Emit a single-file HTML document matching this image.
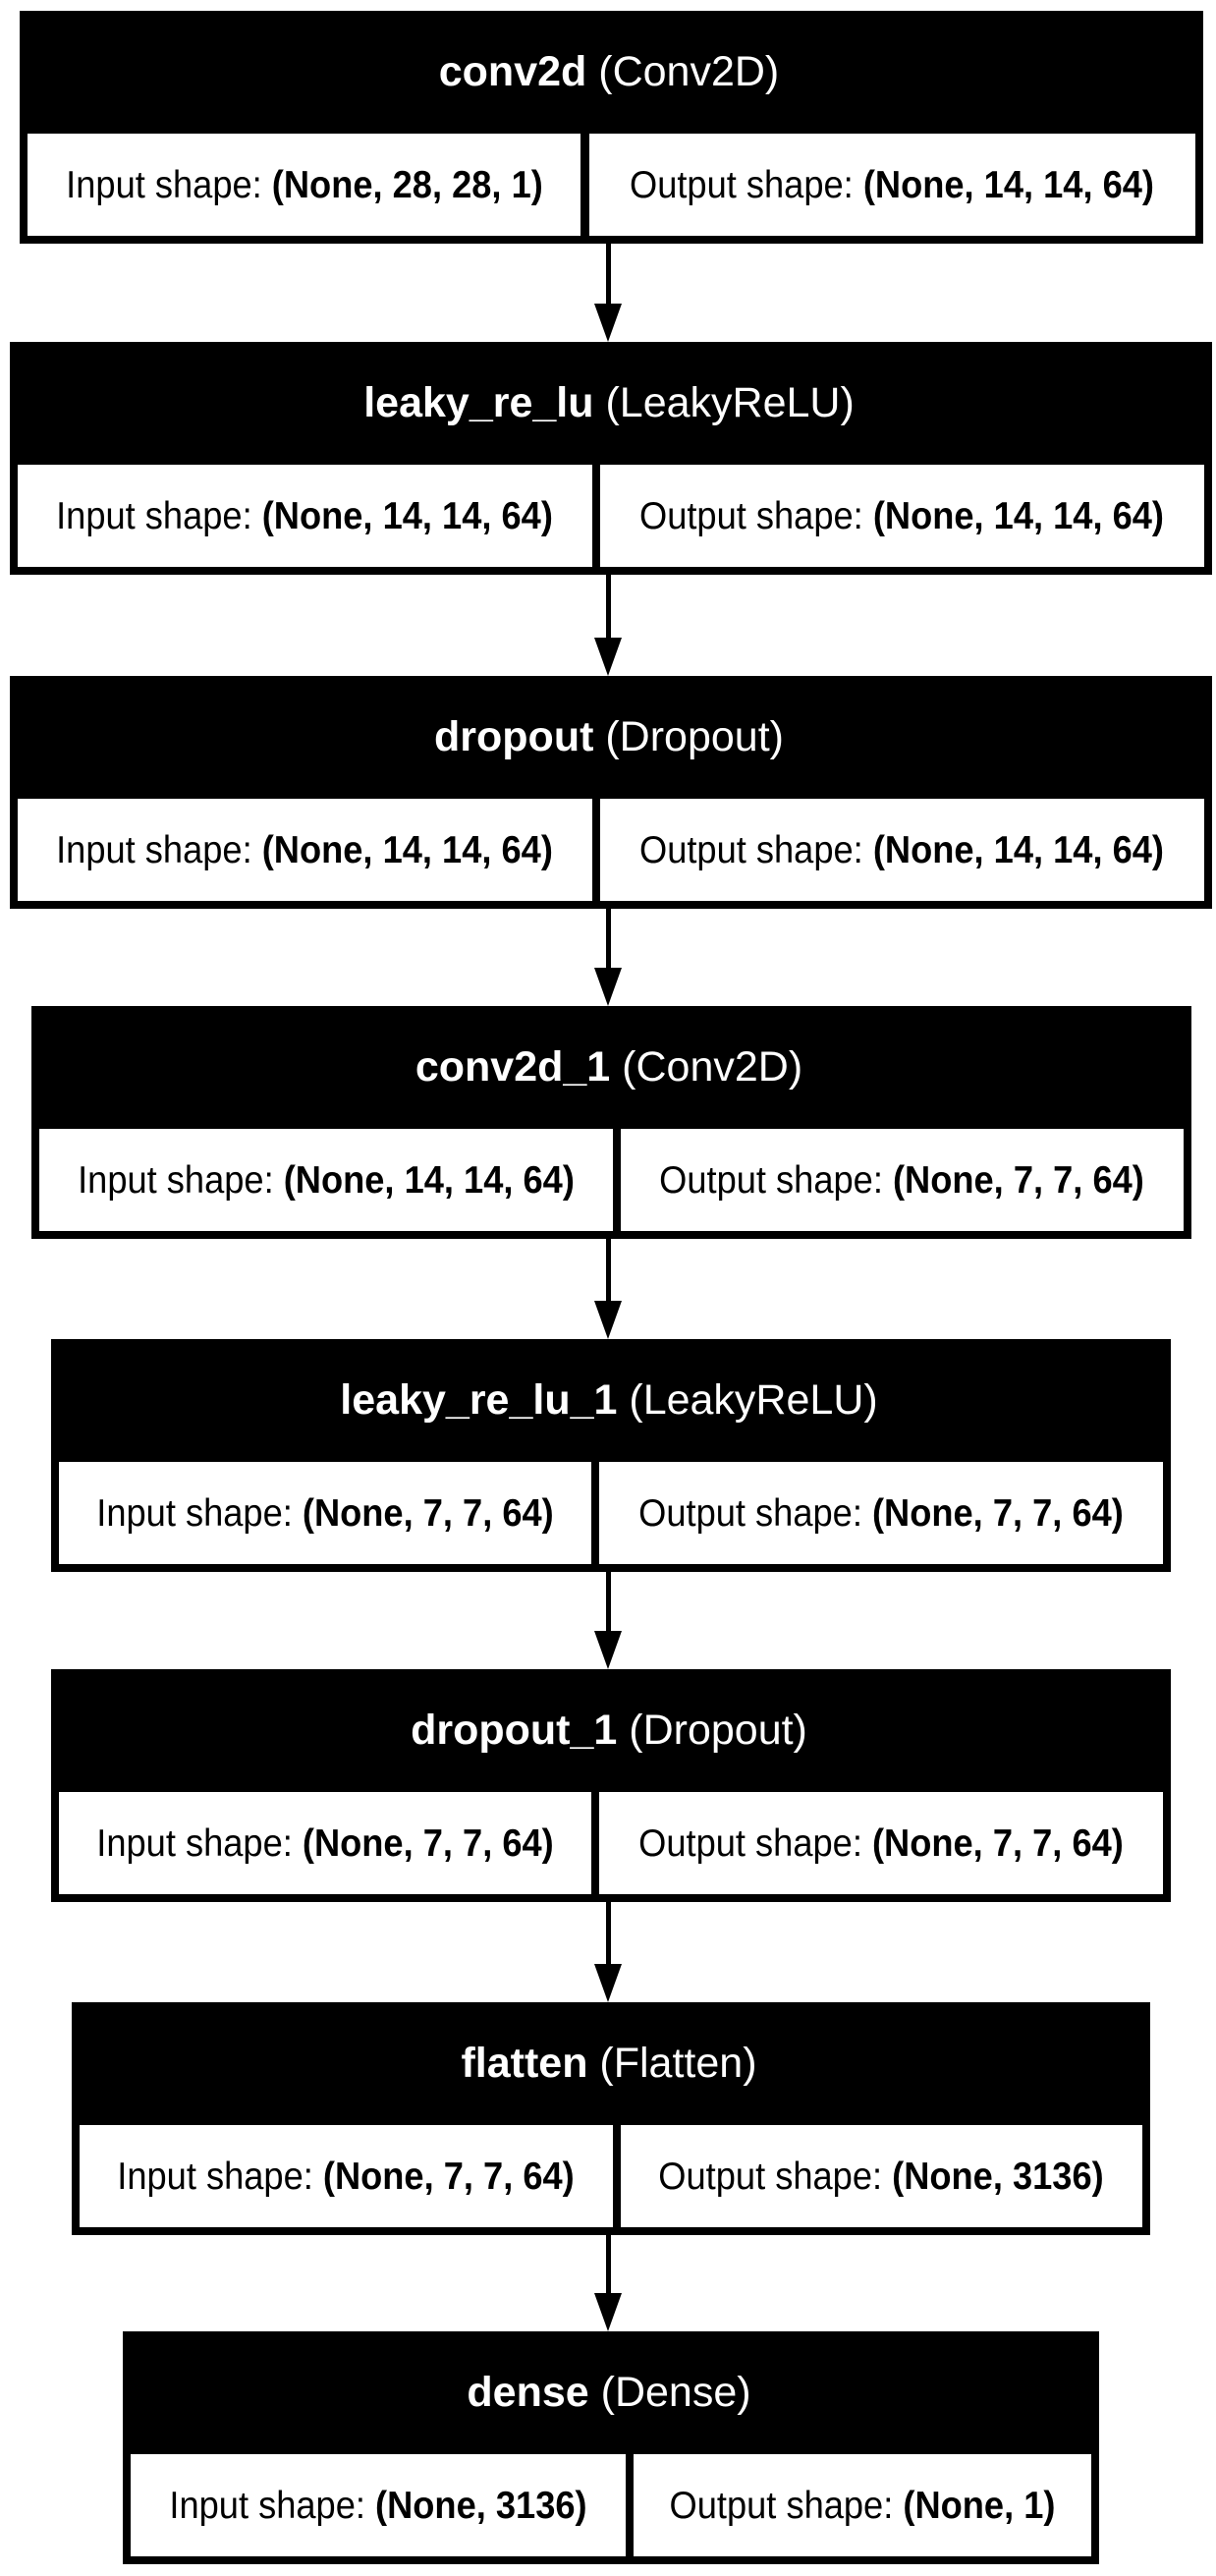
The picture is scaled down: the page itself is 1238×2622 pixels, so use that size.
<!DOCTYPE html>
<html><head><meta charset="utf-8"><style>
html,body{margin:0;padding:0;background:#fff;}
svg{display:block;}
text{font-family:"Liberation Sans",Arial,sans-serif;}
.t{font-size:43px;fill:#fff;}
.c{font-size:39px;fill:#000;}
</style></head><body>
<svg width="1238" height="2622" viewBox="0 0 1238 2622" xmlns="http://www.w3.org/2000/svg">
<rect width="1238" height="2622" fill="#fff"/>
<g>
<rect x="20" y="11" width="1205" height="237" fill="#000"/>
<rect x="28" y="136" width="563" height="104" fill="#fff"/>
<rect x="600" y="136" width="617" height="104" fill="#fff"/>
<text class="t" x="620" y="87" text-anchor="middle"><tspan font-weight="bold">conv2d</tspan> (Conv2D)</text>
<text class="c" transform="translate(310,201) scale(0.93,1)" text-anchor="middle">Input shape: <tspan font-weight="bold">(None, 28, 28, 1)</tspan></text>
<text class="c" transform="translate(908,201) scale(0.93,1)" text-anchor="middle">Output shape: <tspan font-weight="bold">(None, 14, 14, 64)</tspan></text>
</g>
<g>
<rect x="10" y="348" width="1224" height="237" fill="#000"/>
<rect x="18" y="473" width="585" height="104" fill="#fff"/>
<rect x="611" y="473" width="615" height="104" fill="#fff"/>
<text class="t" x="620" y="424" text-anchor="middle"><tspan font-weight="bold">leaky_re_lu</tspan> (LeakyReLU)</text>
<text class="c" transform="translate(310,538) scale(0.93,1)" text-anchor="middle">Input shape: <tspan font-weight="bold">(None, 14, 14, 64)</tspan></text>
<text class="c" transform="translate(918,538) scale(0.93,1)" text-anchor="middle">Output shape: <tspan font-weight="bold">(None, 14, 14, 64)</tspan></text>
</g>
<g>
<rect x="10" y="688" width="1224" height="237" fill="#000"/>
<rect x="18" y="813" width="585" height="104" fill="#fff"/>
<rect x="611" y="813" width="615" height="104" fill="#fff"/>
<text class="t" x="620" y="764" text-anchor="middle"><tspan font-weight="bold">dropout</tspan> (Dropout)</text>
<text class="c" transform="translate(310,878) scale(0.93,1)" text-anchor="middle">Input shape: <tspan font-weight="bold">(None, 14, 14, 64)</tspan></text>
<text class="c" transform="translate(918,878) scale(0.93,1)" text-anchor="middle">Output shape: <tspan font-weight="bold">(None, 14, 14, 64)</tspan></text>
</g>
<g>
<rect x="32" y="1024" width="1181" height="237" fill="#000"/>
<rect x="40" y="1149" width="584" height="104" fill="#fff"/>
<rect x="632" y="1149" width="573" height="104" fill="#fff"/>
<text class="t" x="620" y="1100" text-anchor="middle"><tspan font-weight="bold">conv2d_1</tspan> (Conv2D)</text>
<text class="c" transform="translate(332,1214) scale(0.93,1)" text-anchor="middle">Input shape: <tspan font-weight="bold">(None, 14, 14, 64)</tspan></text>
<text class="c" transform="translate(918,1214) scale(0.93,1)" text-anchor="middle">Output shape: <tspan font-weight="bold">(None, 7, 7, 64)</tspan></text>
</g>
<g>
<rect x="52" y="1363" width="1140" height="237" fill="#000"/>
<rect x="60" y="1488" width="542" height="104" fill="#fff"/>
<rect x="610" y="1488" width="574" height="104" fill="#fff"/>
<text class="t" x="620" y="1439" text-anchor="middle"><tspan font-weight="bold">leaky_re_lu_1</tspan> (LeakyReLU)</text>
<text class="c" transform="translate(331,1553) scale(0.93,1)" text-anchor="middle">Input shape: <tspan font-weight="bold">(None, 7, 7, 64)</tspan></text>
<text class="c" transform="translate(897,1553) scale(0.93,1)" text-anchor="middle">Output shape: <tspan font-weight="bold">(None, 7, 7, 64)</tspan></text>
</g>
<g>
<rect x="52" y="1699" width="1140" height="237" fill="#000"/>
<rect x="60" y="1824" width="542" height="104" fill="#fff"/>
<rect x="610" y="1824" width="574" height="104" fill="#fff"/>
<text class="t" x="620" y="1775" text-anchor="middle"><tspan font-weight="bold">dropout_1</tspan> (Dropout)</text>
<text class="c" transform="translate(331,1889) scale(0.93,1)" text-anchor="middle">Input shape: <tspan font-weight="bold">(None, 7, 7, 64)</tspan></text>
<text class="c" transform="translate(897,1889) scale(0.93,1)" text-anchor="middle">Output shape: <tspan font-weight="bold">(None, 7, 7, 64)</tspan></text>
</g>
<g>
<rect x="73" y="2038" width="1098" height="237" fill="#000"/>
<rect x="81" y="2163" width="543" height="104" fill="#fff"/>
<rect x="632" y="2163" width="531" height="104" fill="#fff"/>
<text class="t" x="620" y="2114" text-anchor="middle"><tspan font-weight="bold">flatten</tspan> (Flatten)</text>
<text class="c" transform="translate(352,2228) scale(0.93,1)" text-anchor="middle">Input shape: <tspan font-weight="bold">(None, 7, 7, 64)</tspan></text>
<text class="c" transform="translate(897,2228) scale(0.93,1)" text-anchor="middle">Output shape: <tspan font-weight="bold">(None, 3136)</tspan></text>
</g>
<g>
<rect x="125" y="2373" width="994" height="237" fill="#000"/>
<rect x="133" y="2498" width="504" height="104" fill="#fff"/>
<rect x="645" y="2498" width="466" height="104" fill="#fff"/>
<text class="t" x="620" y="2449" text-anchor="middle"><tspan font-weight="bold">dense</tspan> (Dense)</text>
<text class="c" transform="translate(385,2563) scale(0.93,1)" text-anchor="middle">Input shape: <tspan font-weight="bold">(None, 3136)</tspan></text>
<text class="c" transform="translate(878,2563) scale(0.93,1)" text-anchor="middle">Output shape: <tspan font-weight="bold">(None, 1)</tspan></text>
</g>
<g fill="#000" stroke="none">
<rect x="617" y="248" width="5" height="62"/><polygon points="605,309 633,309 619,348"/>
<rect x="617" y="585" width="5" height="65"/><polygon points="605,649 633,649 619,688"/>
<rect x="617" y="925" width="5" height="61"/><polygon points="605,985 633,985 619,1024"/>
<rect x="617" y="1261" width="5" height="64"/><polygon points="605,1324 633,1324 619,1363"/>
<rect x="617" y="1600" width="5" height="61"/><polygon points="605,1660 633,1660 619,1699"/>
<rect x="617" y="1936" width="5" height="64"/><polygon points="605,1999 633,1999 619,2038"/>
<rect x="617" y="2275" width="5" height="60"/><polygon points="605,2334 633,2334 619,2373"/>
</g>
</svg>
</body></html>
